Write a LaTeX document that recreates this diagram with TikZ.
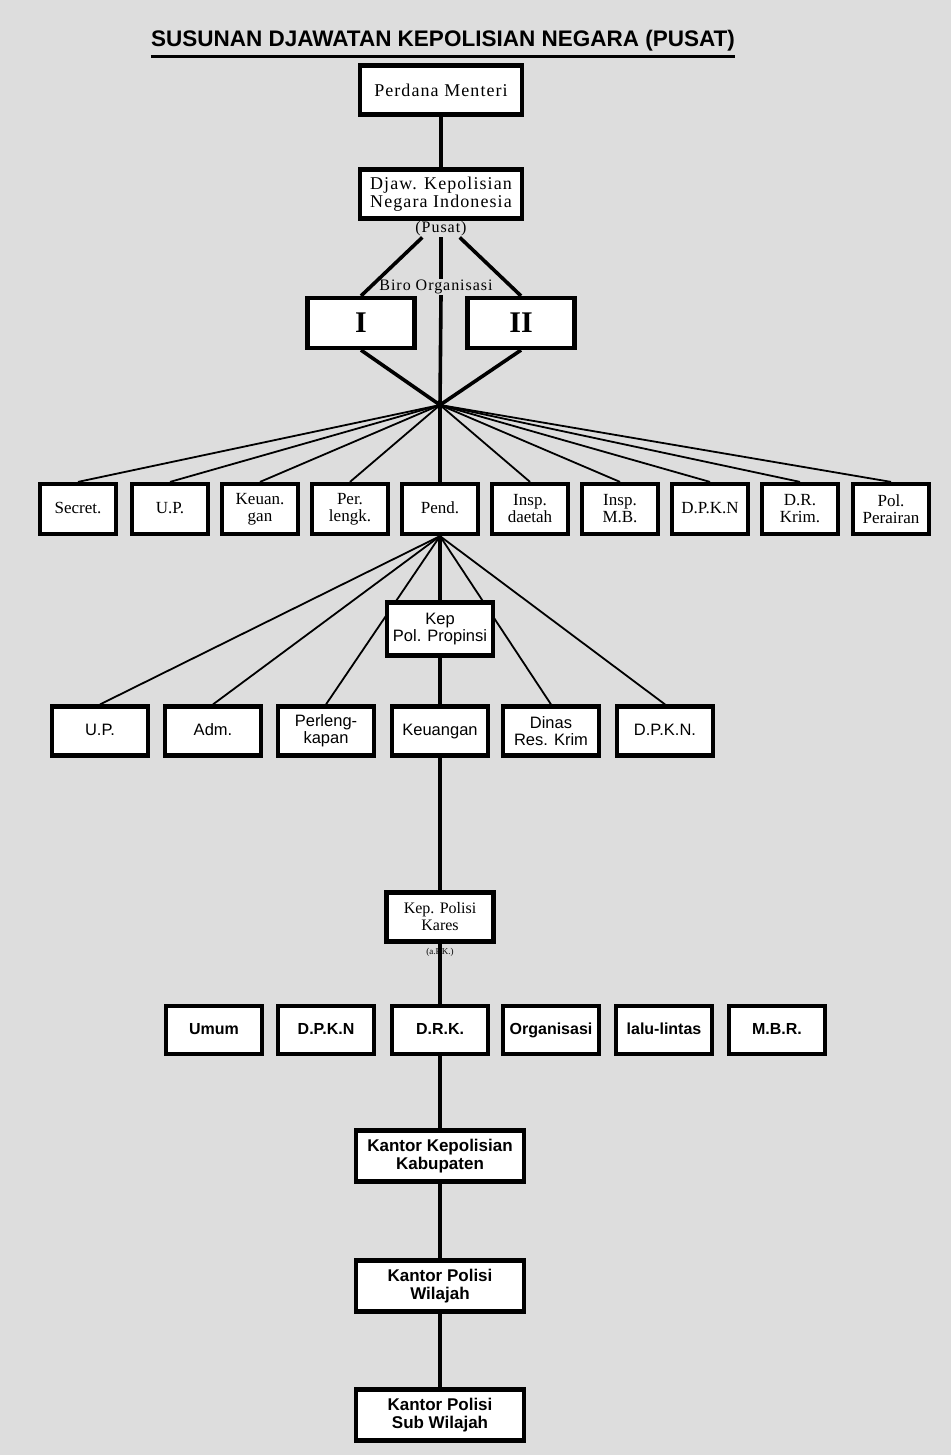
\documentclass[tikz,border=0pt]{standalone}
\usepackage{fontspec}
\setmainfont{Liberation Serif}
\setsansfont{Liberation Sans}
\usetikzlibrary{calc}

\definecolor{paper}{RGB}{221,221,221}

\begin{document}
\begin{tikzpicture}[x=1pt,y=-1pt,
  every text node part/.style={align=center},
  unit/.style={draw, line width=4.2pt, fill=white, inner sep=1pt},
  oneline/.style={text height=11pt, text depth=3pt},
  topunit/.style={unit, minimum width=162pt, minimum height=49pt, font=\fontsize{18}{18}\selectfont\addfontfeature{LetterSpace=6}},
  birounit/.style={unit, minimum width=107pt, minimum height=50pt, font=\fontsize{30}{30}\selectfont\bfseries},
  subunit/.style={unit, minimum width=76pt, minimum height=50pt, font=\fontsize{17}{17}\selectfont},
  propunit/.style={unit, minimum width=96pt, minimum height=49pt, font=\sffamily\fontsize{16.5}{17}\selectfont},
  resunit/.style={unit, oneline, minimum width=96pt, minimum height=48pt, font=\sffamily\bfseries\fontsize{16}{17}\selectfont},
  kantor/.style={unit, minimum width=168pt, minimum height=51pt, font=\sffamily\bfseries\fontsize{17}{18}\selectfont},
  link/.style={line width=3.6pt},
  fan/.style={line width=1.8pt},
  note/.style={inner sep=1pt, font=\fontsize{16}{18}\selectfont\addfontfeature{LetterSpace=6}}
]
%general params
\def\rowB{509}  %row of the biro units
\def\rowC{731}  %row of the propinsi units
\def\rowD{1030} %row of the resort units

\fill[paper] (0,0) rectangle (951,1455);
\useasboundingbox (0,0) rectangle (951,1455);

\node[inner sep=0pt, font=\sffamily\bfseries\fontsize{22.5}{23}\selectfont] (title) at (443,41) {SUSUNAN DJAWATAN KEPOLISIAN NEGARA (PUSAT)};
\draw[line width=3pt] ([yshift=-5pt]title.south west) -- ([yshift=-5pt]title.south east);

% pusat
  \node[topunit] (PM)  at (441,90)  {Perdana Menteri};
  \node[topunit] (DKN) at (441,194) {Djaw. Kepolisian\\Negara Indonesia};
  \node[note] (pusat) at (441,229) {(Pusat)};
  \node[note] (biro)  at (436,287) {Biro Organisasi};

  \node[birounit] (B1) at (361,323) {I};
  \node[birounit] (B2) at (521,323) {II};
  \coordinate (hub) at (440,405);

  \draw[link] (PM) -- (DKN);
  \draw[link] ([xshift=8pt]pusat.south west) -- (B1.north);
  \draw[link] ([xshift=-8pt]pusat.south east) -- (B2.north);
  \draw[link] (pusat.south) -- (pusat.south |- biro.north);
  \draw[link] (pusat.south |- biro.south) -- (hub);
  \draw[link] (B1.south) -- (hub);
  \draw[link] (B2.south) -- (hub);

% bagian-bagian
  \node[subunit, oneline] (secret) at (78,\rowB)  {Secret.};
  \node[subunit, oneline] (UP)     at (170,\rowB) {U.P.};
  \node[subunit] (keu)    at (260,\rowB) {Keuan.\\gan};
  \node[subunit] (perl)   at (350,\rowB) {Per.\\lengk.};
  \node[subunit, oneline] (pend)   at (440,\rowB) {Pend.};
  \node[subunit] (inspD)  at (530,\rowB) {Insp.\\daetah};
  \node[subunit] (inspMB) at (620,\rowB) {Insp.\\M.B.};
  \node[subunit, oneline] (DPKN)   at (710,\rowB) {D.P.K.N};
  \node[subunit] (DRK)    at (800,\rowB) {D.R.\\Krim.};
  \node[subunit] (polair) at (891,\rowB) {Pol.\\Perairan};

  \draw[fan] (hub) -- (secret.north);
  \draw[fan] (hub) -- (UP.north);
  \draw[fan] (hub) -- (keu.north);
  \draw[fan] (hub) -- (perl.north);
  \draw[link] (hub) -- (pend.north);
  \draw[fan] (hub) -- (inspD.north);
  \draw[fan] (hub) -- (inspMB.north);
  \draw[fan] (hub) -- (DPKN.north);
  \draw[fan] (hub) -- (DRK.north);
  \draw[fan] (hub) -- (polair.north);

% propinsi
  \node[propunit, oneline] (pUP)    at (100,\rowC) {U.P.};
  \node[propunit, oneline] (pAdm)   at (213,\rowC) {Adm.};
  \node[propunit] (pPerl)  at (326,\rowC) {Perleng-\\kapan};
  \node[propunit, oneline] (pKeu)   at (440,\rowC) {Keuangan};
  \node[propunit] (pDinas) at (551,\rowC) {Dinas\\Res. Krim};
  \node[propunit, oneline] (pDPKN)  at (665,\rowC) {D.P.K.N.};

  \draw[fan] (pend.south) -- (pUP.north);
  \draw[fan] (pend.south) -- (pAdm.north);
  \draw[fan] (pend.south) -- (pPerl.north);
  \draw[fan] (pend.south) -- (pDinas.north);
  \draw[fan] (pend.south) -- (pDPKN.north);

  \node[propunit, minimum width=106pt, minimum height=53pt] (kep) at (440,629) {Kep\\Pol. Propinsi};
  \draw[link] (pend.south) -- (kep.north);
  \draw[link] (kep.south) -- (pKeu.north);

% keresidenan
  \node[unit, minimum width=107pt, minimum height=49pt, font=\fontsize{16}{17}\selectfont] (kares) at (440,917) {Kep. Polisi\\Kares};
  \node[inner sep=0pt, font=\fontsize{9}{9}\selectfont] (apk) at (440,952) {(a.P.K.)};
  \draw[link] (pKeu.south) -- (kares.north);

  \node[resunit] (umum)  at (214,\rowD) {Umum};
  \node[resunit] (rDPKN) at (326,\rowD) {D.P.K.N};
  \node[resunit] (rDRK)  at (440,\rowD) {D.R.K.};
  \node[resunit] (org)   at (551,\rowD) {Organisasi};
  \node[resunit] (lalin) at (664,\rowD) {lalu-lintas};
  \node[resunit] (MBR)   at (777,\rowD) {M.B.R.};
  \draw[link] (kares.south) -- (rDRK.north);

% kabupaten ke bawah
  \node[kantor] (kab) at (440,1156) {Kantor Kepolisian\\Kabupaten};
  \node[kantor] (wil) at (440,1286) {Kantor Polisi\\Wilajah};
  \node[kantor] (sub) at (440,1415) {Kantor Polisi\\Sub Wilajah};

  \draw[link] (rDRK.south) -- (kab.north);
  \draw[link] (kab.south) -- (wil.north);
  \draw[link] (wil.south) -- (sub.north);

\end{tikzpicture}
\end{document}
